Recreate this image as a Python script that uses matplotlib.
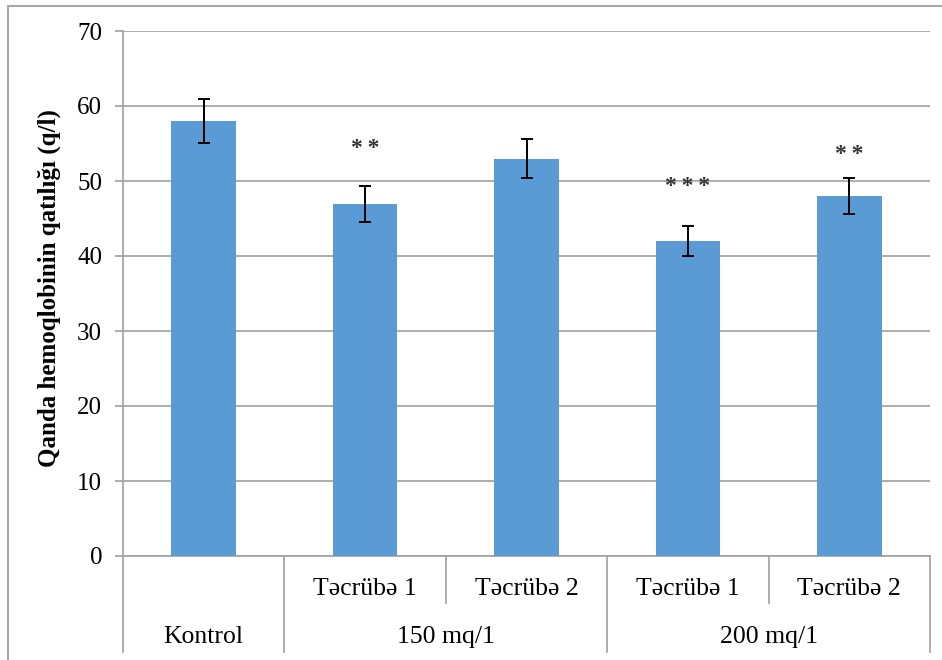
import matplotlib
matplotlib.use("Agg")
import matplotlib.pyplot as plt
from matplotlib.patches import Rectangle

plt.rcParams['font.family'] = ['Liberation Serif', 'DejaVu Serif']

# Data
subcats = ['', 'Təcrübə 1', 'Təcrübə 2', 'Təcrübə 1', 'Təcrübə 2']
groups = ['Kontrol', '150 mq/1', '200 mq/1']
group_spans = [(0, 0), (1, 2), (3, 4)]
values = [58, 47, 53, 42, 48]
errors = [2.9, 2.4, 2.6, 2.0, 2.4]
stars = ['', '**', '', '***', '**']
star_heights = [0, 54.4, 0, 49.2, 53.6]
yticks = [0, 10, 20, 30, 40, 50, 60, 70]
ylabel = 'Qanda hemoqlobinin qatılığı (q/l)'

W, H = 942, 660
fig = plt.figure(figsize=(W / 100, H / 100), dpi=100)
ax = fig.add_axes([123 / W, 104 / H, (930 - 123) / W, (556 - 31) / H])

grid_c = '#A0A0A0'
x = list(range(len(values)))
ax.bar(x, values, width=0.4, color='#5B9BD5', zorder=3)
ax.errorbar(x, values, yerr=errors, fmt='none', ecolor='black',
            elinewidth=1.4, capsize=4, capthick=1.4, zorder=4)

for xi, s, h in zip(x, stars, star_heights):
    if s:
        ax.text(xi, h, '\u2009'.join(s), ha='center', va='center', fontsize=17,
                color='#333333', fontweight='bold')

ax.set_xlim(-0.5, len(values) - 0.5)
ax.set_ylim(0, 70)
ax.set_yticks(yticks)
ax.yaxis.grid(True, color=grid_c, linewidth=1.2, zorder=0)
ax.set_axisbelow(True)
ax.tick_params(axis='y', length=6, width=1.2, color=grid_c, labelsize=18, pad=9)
ax.tick_params(axis='x', length=0, labelbottom=False)
for sp in ['top', 'right']:
    ax.spines[sp].set_visible(False)
ax.spines['left'].set_color(grid_c)
ax.spines['left'].set_linewidth(1.2)
ax.spines['bottom'].set_color(grid_c)
ax.spines['bottom'].set_linewidth(1.2)

ax.set_ylabel(ylabel, fontsize=18, fontweight='bold')
ax.yaxis.set_label_coords(-0.077, 0.51)

# Multi-level category axis
tr = ax.get_xaxis_transform()
outer_y = -0.183
inner_y = -0.0895
outer_lines = [-0.5] + [hi + 0.5 for lo, hi in group_spans]
for xv in outer_lines:
    ax.plot([xv, xv], [0, outer_y], transform=tr, color=grid_c, lw=1.2, clip_on=False)
for lo, hi in group_spans:
    for k in range(lo, hi):
        ax.plot([k + 0.5, k + 0.5], [0, inner_y], transform=tr, color=grid_c, lw=1.2, clip_on=False)

for xi, lab in zip(x, subcats):
    if lab:
        ax.text(xi, -0.062, lab, transform=tr, ha='center', va='center', fontsize=18.5)
for (lo, hi), g in zip(group_spans, groups):
    ax.text((lo + hi) / 2, -0.154, g, transform=tr, ha='center', va='center', fontsize=18.5)

# Outer chart frame (cropped on right/bottom)
fig.patches.append(Rectangle((8 / W, -0.1), 1.2, 1 - 6 / H + 0.1, transform=fig.transFigure,
                             fill=False, edgecolor='#A8A8A8', linewidth=1.5))

fig.savefig('out.png', dpi=100)
